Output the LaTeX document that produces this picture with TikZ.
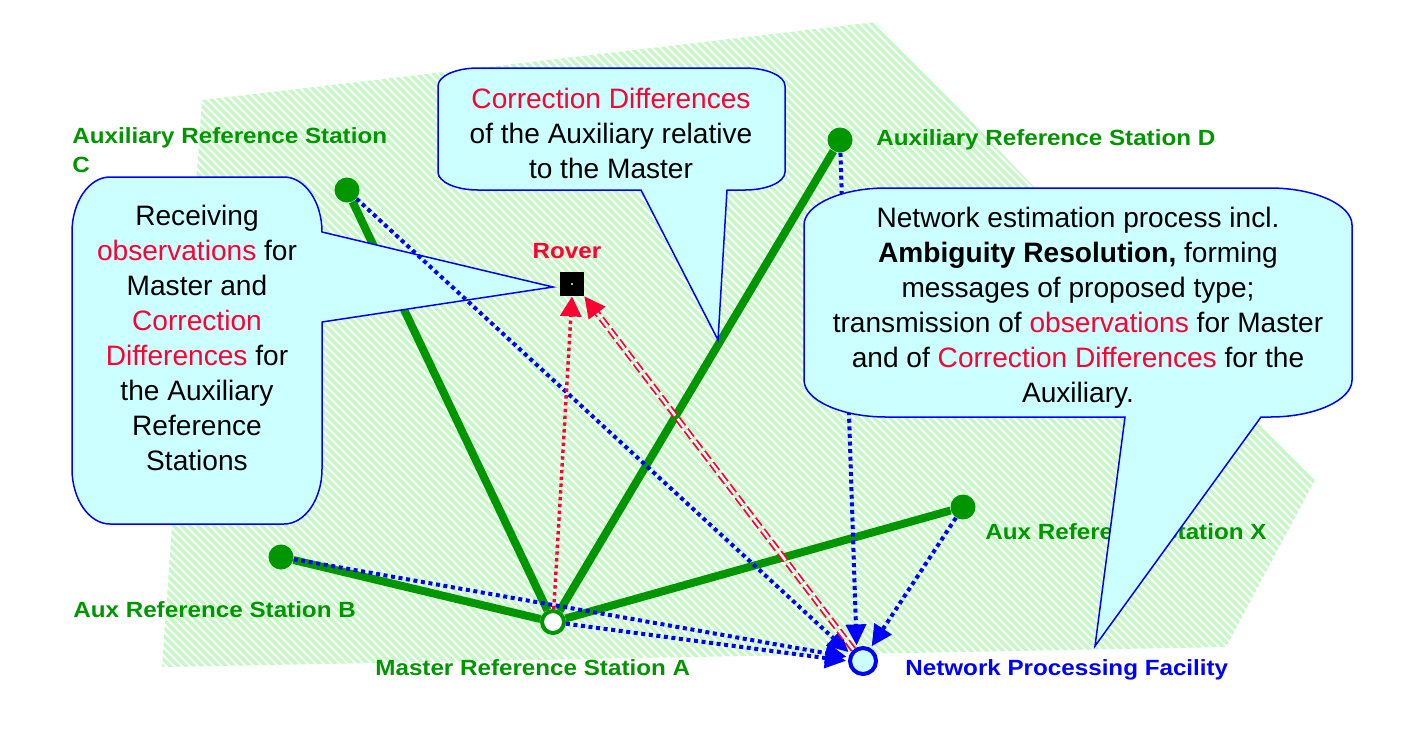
\documentclass[tikz,border=0pt]{standalone}
\usepackage{fontspec}
\setmainfont{Liberation Sans}
\newfontfamily\lblfont{Liberation Sans}[FakeStretch=1.1]
\usetikzlibrary{arrows.meta}
\definecolor{stgreen}{RGB}{0,150,0}
\definecolor{hatchgreen}{RGB}{198,248,198}
\definecolor{bubblefill}{RGB}{204,255,255}
\definecolor{hired}{RGB}{255,0,51}
\pgfdeclarelayer{bg}
\pgfsetlayers{bg,main}
\newcommand{\hl}[1]{\textcolor{hired}{#1}}
\tikzset{
    station/.style={circle, fill=stgreen, inner sep=0pt, minimum size=12.5pt},
    masterst/.style={circle, draw=stgreen, fill=white, line width=2pt, inner sep=0pt, minimum size=11pt},
    facility/.style={circle, draw=blue, fill=bubblefill, line width=2pt, inner sep=0pt, minimum size=13pt},
    rovernode/.style={rectangle, fill=black, inner sep=0pt, minimum size=12pt},
    lbl/.style={inner sep=0pt, font=\lblfont\fontsize{11}{14.5}\selectfont\bfseries, text=stgreen},
    bubbletext/.style={inner sep=0pt, align=center, font=\fontsize{14.05}{17.5}\selectfont},
    bubble/.style={draw=blue, fill=bubblefill, line width=0.75pt},
    link/.style={draw=stgreen, line width=4pt},
    bluedots/.style={draw=blue, line width=2pt, dash pattern=on 2pt off 1.8pt, -{Triangle[length=10.5pt,width=10pt]}, shorten >=1pt},
    reddots/.style={draw=hired, line width=1.7pt, dash pattern=on 1.7pt off 1.7pt, -{Triangle[length=10pt,width=10.5pt]}},
    redpair/.style={draw=hired, double=white, line width=0.9pt, double distance=1.3pt, dash pattern=on 5pt off 2pt, shorten >=9pt},
    redtip/.style={draw=hired, line width=0.6pt, dash pattern=on 0pt off 2000pt, -{Triangle[length=10.5pt,width=10.5pt]}},
    hatchline/.style={draw=hatchgreen, line width=1.7pt}
}

\begin{document}
\begin{tikzpicture}[x=0.5pt, y=-0.5pt]
    \useasboundingbox (0,0) rectangle (1411,745);

    \node (stC) [station] at (347,190) {};
    \node (stD) [station] at (840,140) {};
    \node (stB) [station] at (281,557) {};
    \node (stX) [station] at (963,507) {};
    \node (master) [masterst] at (553,622) {};
    \node (npf) [facility] at (863,661) {};
    \node (rover) [rovernode] at (572,284) {};
    \fill[white] (rover.center) circle (0.6pt);

    \node (lblC) [lbl, align=left, anchor=base west] at (72,172) {Auxiliary Reference Station\\C};
    \node (lblD) [lbl, anchor=base west] at (876,145) {Auxiliary Reference Station D};
    \node (lblX) [lbl, anchor=base west] at (985,539) {Aux Reference Station X};
    \node (lblB) [lbl, anchor=base west] at (73,617) {Aux Reference Station B};
    \node (lblA) [lbl, anchor=base west] at (375,675) {Master Reference Station A};
    \node (lblNPF) [lbl, text=blue, anchor=base west] at (905,675) {Network Processing Facility};
    \node (lblRover) [lbl, text=hired, anchor=base] at (567,258) {Rover};

    \begin{pgfonlayer}{bg}
        \begin{scope}
            \clip (202,100) -- (876,22) -- (1315,480) -- (1226,647) -- (162,667) -- cycle;
            \foreach \i in {-520,-512,...,1300}
                \draw[hatchline] (\i,0) -- ++(700,700);
        \end{scope}
        \draw[link] (master) -- (stC);
        \draw[link] (master) -- (stD);
        \draw[link] (master) -- (stB);
        \draw[link] (master) -- (stX);
    \end{pgfonlayer}

    % callout, left
    \draw[bubble] (110,177) -- (284,177) .. controls (305,177) and (322,202) .. (322,232) -- (553,287) -- (322,322) -- (322,469) .. controls (322,499) and (305,524) .. (284,524) -- (110,524) .. controls (89,524) and (72,499) .. (72,469) -- (72,232) .. controls (72,202) and (89,177) .. (110,177) -- cycle;
    \node (txtRecv) [bubbletext, anchor=base] at (197,470) {Receiving\\\hl{observations} for\\Master and\\\hl{Correction}\\\hl{Differences} for\\the Auxiliary\\Reference\\Stations};

    % callout, top
    \draw[bubble] (478,68) -- (745,68) .. controls (767,68) and (785,76) .. (785,86) -- (785,172) .. controls (785,182) and (767,190) .. (745,190) -- (727,190) -- (718,340) -- (641,190) -- (478,190) .. controls (456,190) and (438,182) .. (438,172) -- (438,86) .. controls (438,76) and (456,68) .. (478,68) -- cycle;
    \node (txtCorr) [bubbletext, anchor=base] at (611,178) {\hl{Correction Differences}\\of the Auxiliary relative\\to the Master};

    \draw[bluedots] (stC) -- (npf.150);
    \draw[bluedots] (stB) -- (npf.165);
    \draw[bluedots] (master) -- (npf.west);
    \draw[bluedots] (stX) -- (npf.60);
    \draw[bluedots] (stD) -- (npf.115);
    \draw[reddots] (master) -- (rover.south);
    \draw[redpair] (npf.130) -- (rover.south east);
    \draw[redtip] (npf.130) -- (rover.south east);

    % callout, right
    \draw[bubble] (886,188) -- (1270,188) .. controls (1315,188) and (1352,205) .. (1352,225) -- (1352,380) .. controls (1352,400) and (1315,417) .. (1270,417) -- (1261,417) -- (1095,646) -- (1125,417) -- (886,417) .. controls (841,417) and (804,400) .. (804,380) -- (804,225) .. controls (804,205) and (841,188) .. (886,188) -- cycle;
    \node (txtNet) [bubbletext, anchor=base] at (1078,402) {Network estimation process incl.\\\textbf{Ambiguity Resolution,} forming\\messages of proposed type;\\transmission of \hl{observations} for Master\\and of \hl{Correction Differences} for the\\Auxiliary.};
\end{tikzpicture}
\end{document}
